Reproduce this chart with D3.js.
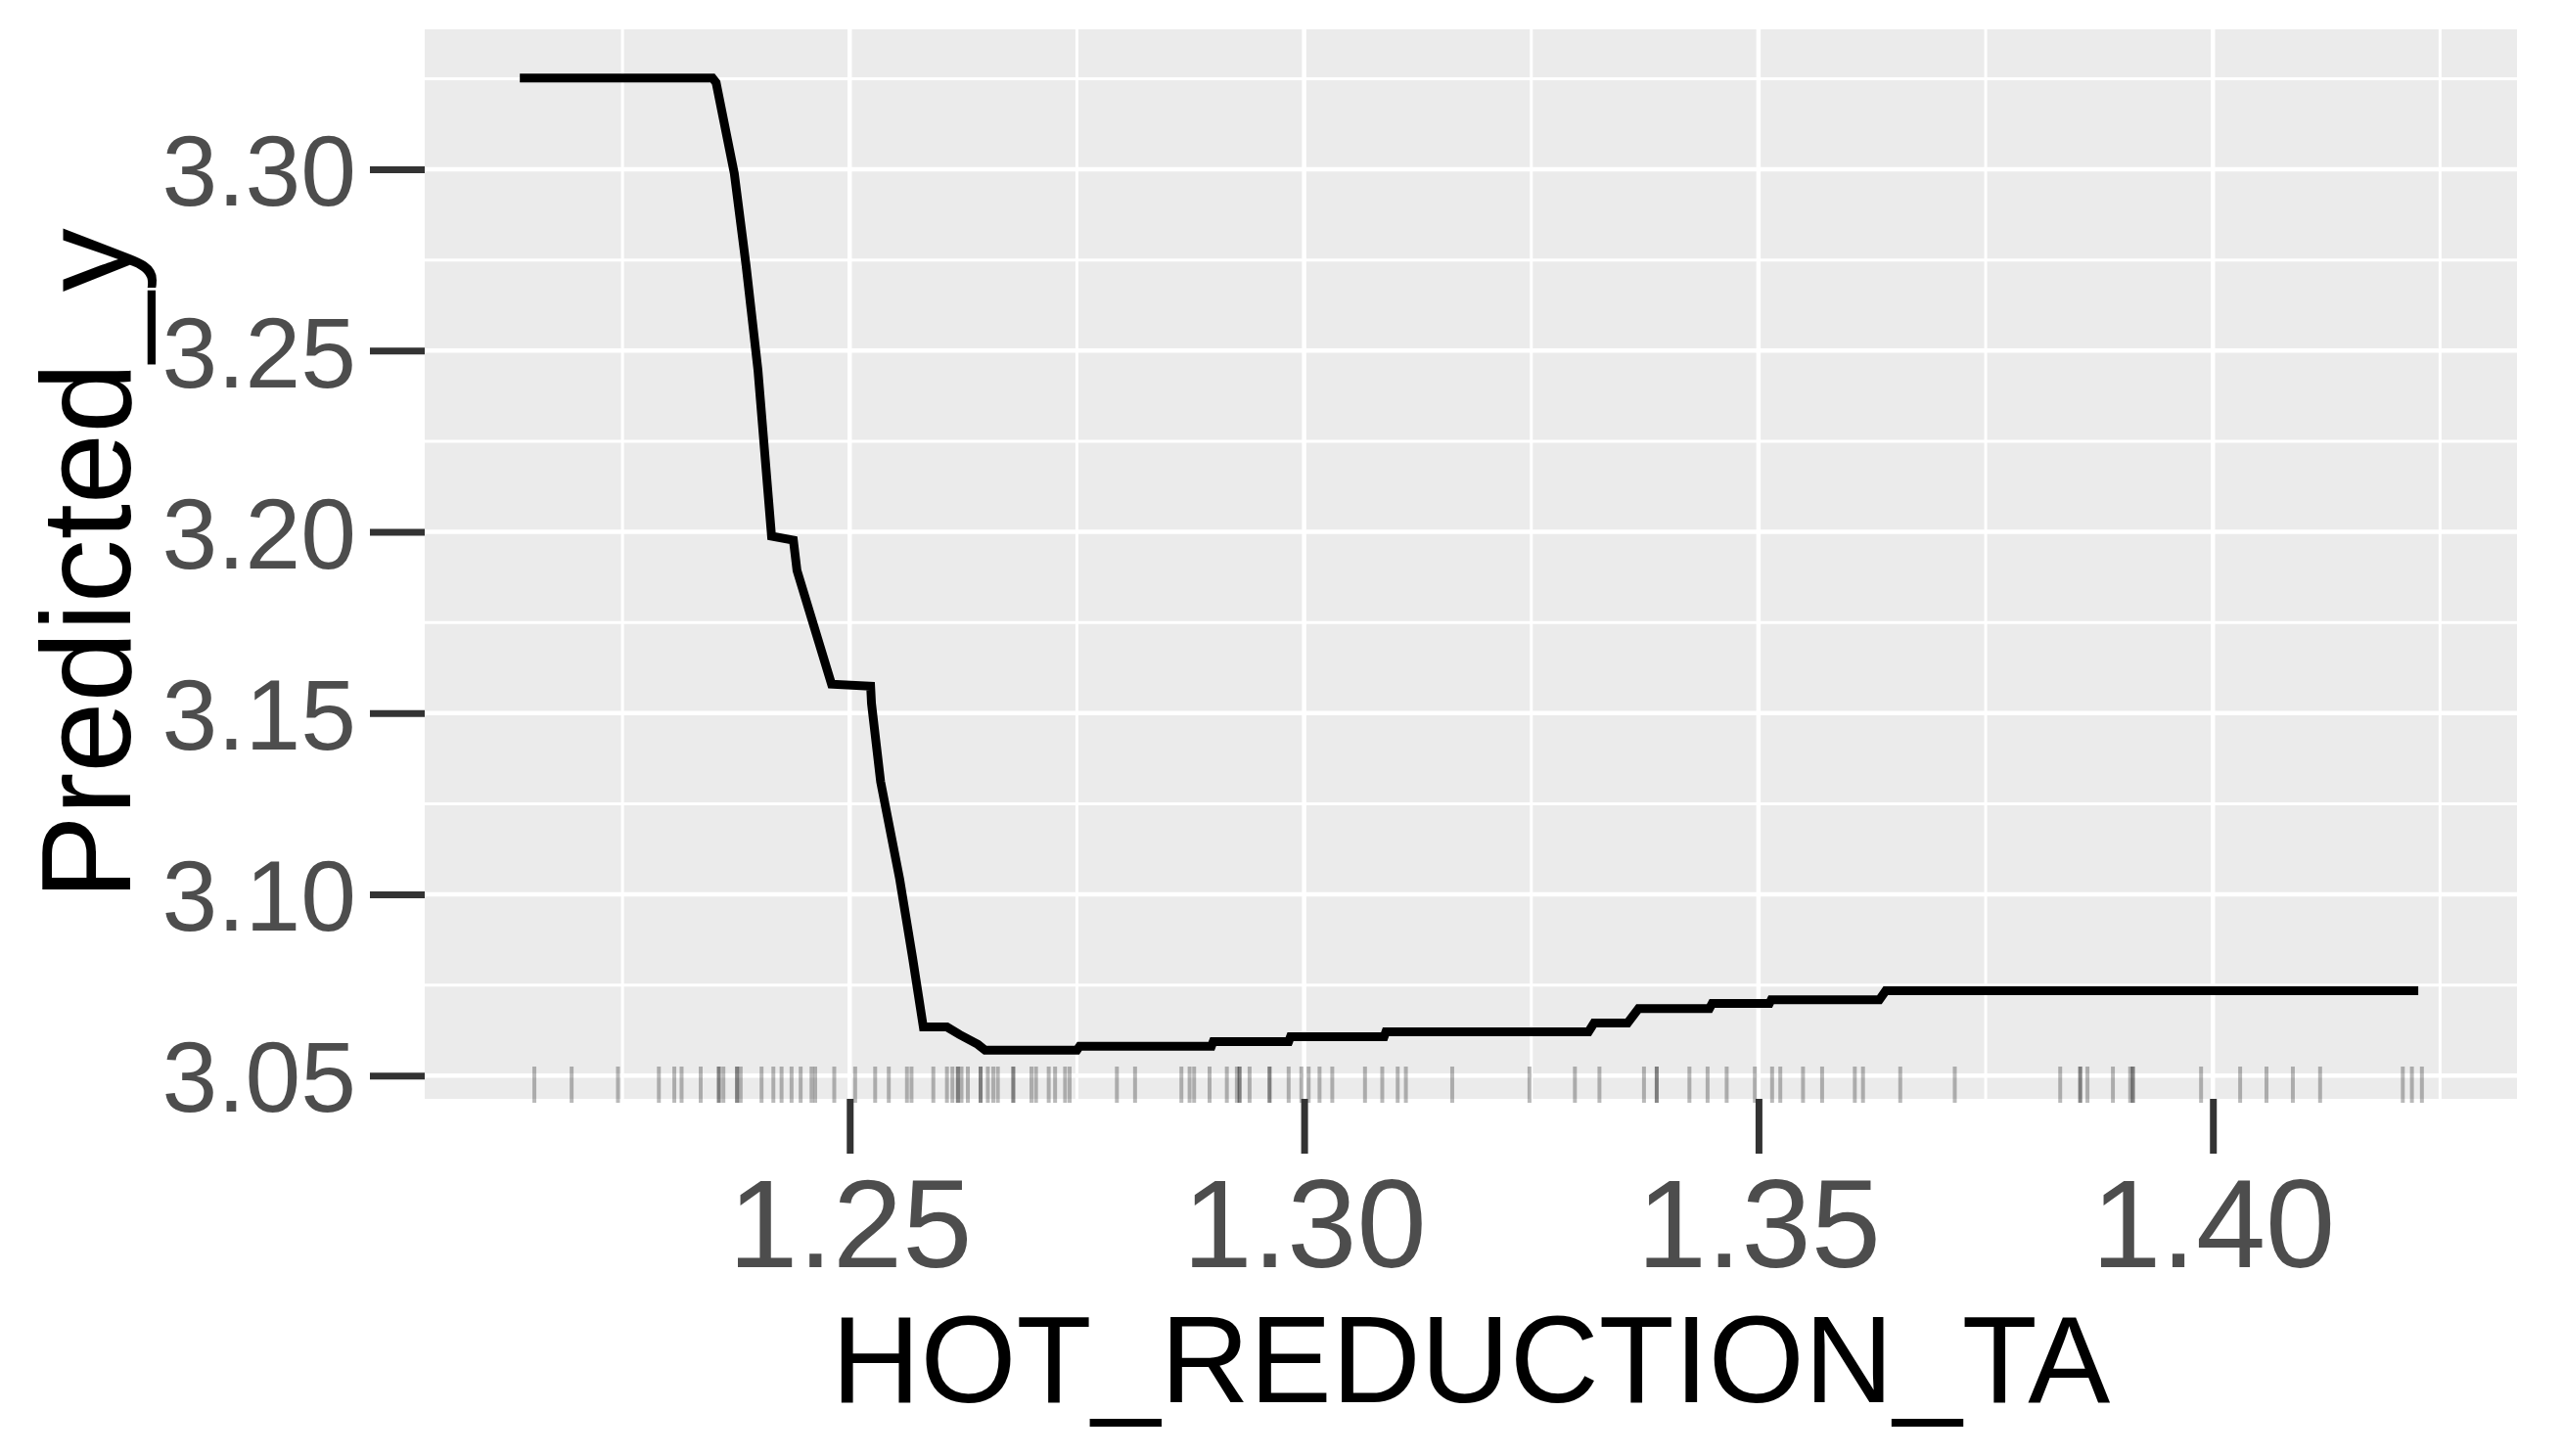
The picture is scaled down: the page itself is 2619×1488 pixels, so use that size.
<!DOCTYPE html>
<html>
<head>
<meta charset="utf-8">
<script src="https://cdn.jsdelivr.net/npm/d3@7"></script>
<style>
  body { margin: 0; background: #fff; }
  text { font-family: "Liberation Sans", Arial, sans-serif; }
</style>
</head>
<body>
<div id="chart"></div>
<script>
// partial dependence curve
var pdpX = [1.2137, 1.2349, 1.2353, 1.2373, 1.2386, 1.2399, 1.2414, 1.2438, 1.2442, 1.2480,
            1.2523, 1.2524, 1.2534, 1.2555, 1.2569, 1.2581, 1.2607, 1.2621, 1.2641, 1.2649,
            1.2750, 1.2753, 1.2898, 1.2900, 1.2983, 1.2985, 1.3088, 1.3090, 1.3313, 1.3319,
            1.3356, 1.3368, 1.3446, 1.3449, 1.3512, 1.3514, 1.3633, 1.3640, 1.4226];
var pdpY = [3.3252, 3.3252, 3.3239, 3.2989, 3.2734, 3.2447, 3.1988, 3.1977, 3.1893, 3.1580,
            3.1574, 3.1526, 3.1311, 3.1042, 3.0828, 3.0634, 3.0634, 3.0613, 3.0586, 3.0570,
            3.0570, 3.0581, 3.0581, 3.0594, 3.0594, 3.0607, 3.0607, 3.0621, 3.0621, 3.0645,
            3.0645, 3.0685, 3.0685, 3.0699, 3.0699, 3.0709, 3.0709, 3.0734, 3.0734];

// observed values of HOT_REDUCTION_TA (rug)
var rugX = [1.2153, 1.2194, 1.2245, 1.2290, 1.2307, 1.2315, 1.2336, 1.2356, 1.2356, 1.2361,
            1.2376, 1.2376, 1.2380, 1.2403, 1.2416, 1.2425, 1.2436, 1.2446, 1.2458, 1.2462,
            1.2483, 1.2506, 1.2528, 1.2543, 1.2563, 1.2568, 1.2592, 1.2607, 1.2613, 1.2619,
            1.2619, 1.2623, 1.2630, 1.2644, 1.2644, 1.2652, 1.2658, 1.2663, 1.2680, 1.2680,
            1.2700, 1.2705, 1.2719, 1.2726, 1.2737, 1.2742, 1.2794, 1.2814, 1.2865, 1.2874,
            1.2879, 1.2896, 1.2915, 1.2926, 1.2929, 1.2929, 1.2940, 1.2962, 1.2962, 1.2983,
            1.2997, 1.3005, 1.3017, 1.3031, 1.3067, 1.3086, 1.3103, 1.3112, 1.3163, 1.3248,
            1.3298, 1.3325, 1.3374, 1.3388, 1.3388, 1.3424, 1.3444, 1.3465, 1.3496, 1.3515,
            1.3524, 1.3549, 1.3570, 1.3606, 1.3615, 1.3656, 1.3716, 1.3832, 1.3854, 1.3854,
            1.3862, 1.3890, 1.3909, 1.3912, 1.3912, 1.3987, 1.4030, 1.4059, 1.4088, 1.4118,
            1.4209, 1.4219, 1.4230];

var xTicks = [1.25, 1.30, 1.35, 1.40];
var yTicks = [3.05, 3.10, 3.15, 3.20, 3.25, 3.30];
var xMinor = [1.225, 1.275, 1.325, 1.375, 1.425];
var yMinor = [3.075, 3.125, 3.175, 3.225, 3.275, 3.325];

var W = 2619, H = 1488;
var margin = {top: 30, right: 47, bottom: 365, left: 434};
var width = W - margin.left - margin.right,
    height = H - margin.top - margin.bottom;

var svg = d3.select("#chart").append("svg")
    .attr("width", W)
    .attr("height", H)
    .style("background", "#fff");

var g = svg.append("g")
    .attr("transform", "translate(" + margin.left + "," + margin.top + ")");

// ggplot style 5% expansion of the data range
function expand(ext) {
  var d = (ext[1] - ext[0]) * 0.05;
  return [ext[0] - d, ext[1] + d];
}

var x = d3.scaleLinear()
    .domain(expand(d3.extent(pdpX.concat(rugX))))
    .range([0, width]);
var y = d3.scaleLinear()
    .domain(expand(d3.extent(pdpY)))
    .range([height, 0]);

// panel
g.append("rect")
  .attr("width", width)
  .attr("height", height)
  .attr("fill", "#EBEBEB");

// grid lines
g.selectAll(".xminor").data(xMinor).enter().append("line")
  .attr("x1", d => x(d)).attr("x2", d => x(d))
  .attr("y1", 0).attr("y2", height)
  .attr("stroke", "#fff").attr("stroke-width", 3);
g.selectAll(".yminor").data(yMinor).enter().append("line")
  .attr("y1", d => y(d)).attr("y2", d => y(d))
  .attr("x1", 0).attr("x2", width)
  .attr("stroke", "#fff").attr("stroke-width", 3);
g.selectAll(".xmajor").data(xTicks).enter().append("line")
  .attr("x1", d => x(d)).attr("x2", d => x(d))
  .attr("y1", 0).attr("y2", height)
  .attr("stroke", "#fff").attr("stroke-width", 4.5);
g.selectAll(".ymajor").data(yTicks).enter().append("line")
  .attr("y1", d => y(d)).attr("y2", d => y(d))
  .attr("x1", 0).attr("x2", width)
  .attr("stroke", "#fff").attr("stroke-width", 4.5);

// rug
g.selectAll(".rug").data(rugX).enter().append("line")
  .attr("x1", d => x(d)).attr("x2", d => x(d))
  .attr("y1", height + 4).attr("y2", height - 33)
  .attr("stroke", "#000").attr("stroke-opacity", 0.27)
  .attr("stroke-width", 4);

// the curve
var line = d3.line()
  .x(d => x(d[0]))
  .y(d => y(d[1]));

g.append("path")
  .datum(d3.zip(pdpX, pdpY))
  .attr("d", line)
  .attr("fill", "none")
  .attr("stroke", "#000")
  .attr("stroke-width", 9)
  .attr("stroke-linejoin", "miter");

// axes
var xAxis = g.append("g")
  .attr("transform", "translate(0," + height + ")")
  .call(d3.axisBottom(x).tickValues(xTicks).tickSize(56).tickPadding(24).tickFormat(d3.format(".2f")));
var yAxis = g.append("g")
  .call(d3.axisLeft(y).tickValues(yTicks).tickSize(56).tickPadding(14).tickFormat(d3.format(".2f")));

[xAxis, yAxis].forEach(function(a) {
  a.select(".domain").remove();
  a.selectAll(".tick line").attr("stroke", "#333333").attr("stroke-width", 7);
  a.selectAll(".tick text").attr("fill", "#4D4D4D").attr("font-family", null);
});
xAxis.selectAll(".tick text").attr("font-size", 128).attr("dy", "0.72em");
yAxis.selectAll(".tick text").attr("font-size", 102).attr("dy", "0.36em");

// axis titles
svg.append("text")
  .attr("x", margin.left + width / 2)
  .attr("y", 1433)
  .attr("text-anchor", "middle")
  .attr("font-size", 126)
  .attr("fill", "#000")
  .text("HOT_REDUCTION_TA");

svg.append("text")
  .attr("transform", "translate(133," + (margin.top + height / 2) + ") rotate(-90)")
  .attr("text-anchor", "middle")
  .attr("font-size", 130)
  .attr("fill", "#000")
  .text("Predicted_y");
</script>
</body>
</html>
